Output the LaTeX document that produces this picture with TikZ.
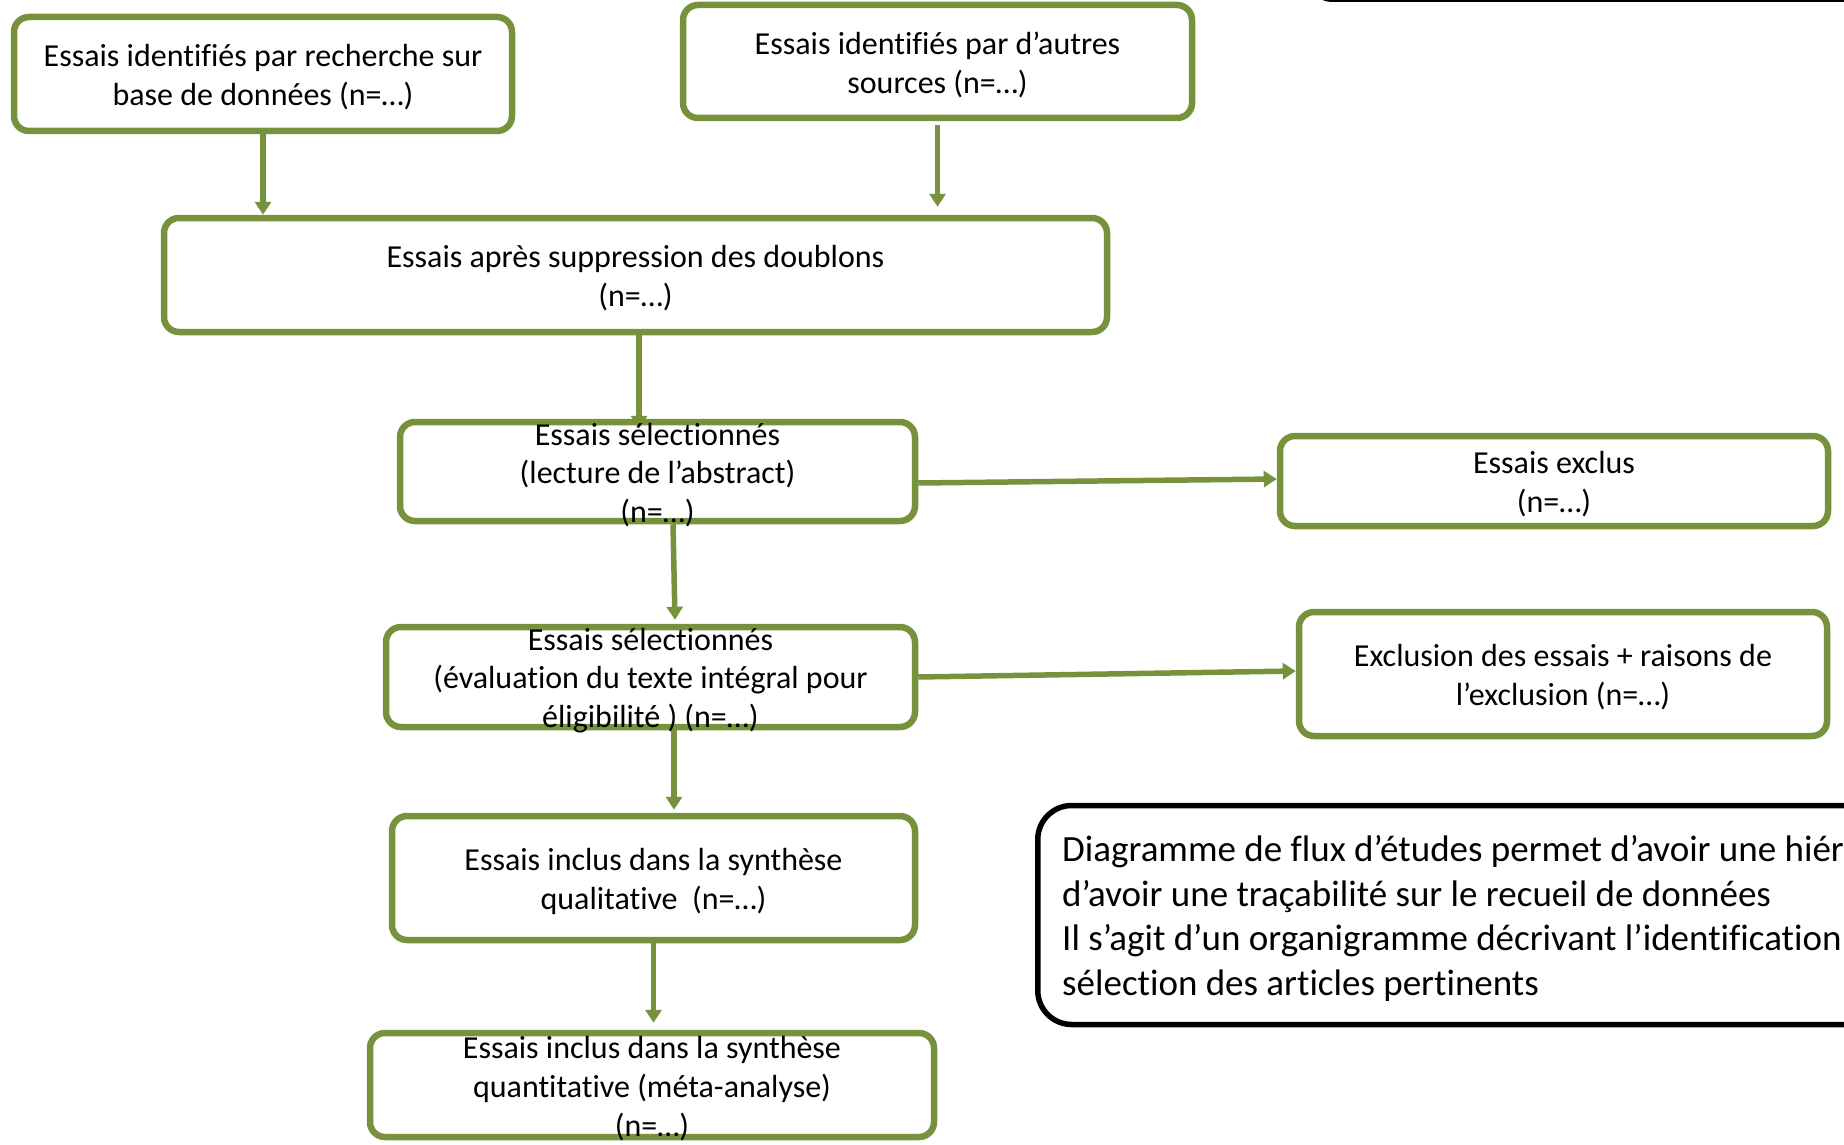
\documentclass[tikz,border=0pt]{standalone}
\usepackage{fontspec}
\setmainfont[Ligatures=NoCommon]{Carlito}
\usetikzlibrary{arrows.meta,calc}
\definecolor{olivegreen}{RGB}{118,146,60}
\tikzset{
  gbox/.style={draw=olivegreen, line width=6.5pt, rounded corners=15pt, inner sep=0pt, fill=white},
  btxt/.style={align=center, inner sep=0pt, yshift=-3.5pt, font=\fontsize{32}{38.8}\selectfont},
  arr/.style={draw=olivegreen, line width=5.5pt, -{Triangle[width=16pt,length=13pt]}},
}
\begin{document}
\begin{tikzpicture}[x=1pt,y=-1pt]
\useasboundingbox (0,0) rectangle (1844,1145);
\clip (0,0) rectangle (1844,1145);
\fill[white] (0,0) rectangle (1844,1145);

% top black box (mostly outside)
\node[draw=black, line width=6pt, rounded corners=28pt, minimum width=700pt, minimum height=100pt, anchor=south west] (topbox) at (1302,2) {};

% boxes
\node[gbox, minimum width=498pt, minimum height=114pt] (b1) at (263,74) {};
\node[gbox, minimum width=509pt, minimum height=113pt] (b2) at (937.5,61.5) {};
\node[gbox, minimum width=943pt, minimum height=114pt] (b3) at (635.5,275) {};
\node[gbox, minimum width=515pt, minimum height=99pt] (b4) at (657.5,471.5) {};
\node[gbox, minimum width=548pt, minimum height=90pt] (b5) at (1554,481) {};
\node[gbox, minimum width=529pt, minimum height=100pt] (b6) at (650.5,677) {};
\node[gbox, minimum width=528pt, minimum height=124pt] (b7) at (1563,674) {};
\node[gbox, minimum width=523pt, minimum height=124pt] (b8) at (653.5,878) {};
\node[gbox, minimum width=564pt, minimum height=104pt] (b9) at (652,1085) {};

% texts
\node[btxt] (t1) at (b1) {Essais identifiés par recherche sur\\base de données (n=…)};
\node[btxt] (t2) at (b2) {Essais identifiés par d’autres\\sources (n=…)};
\node[btxt] (t3) at (b3) {Essais après suppression des doublons\\(n=…)};
\node[btxt] (t5) at (b5) {Essais exclus\\(n=…)};
\node[btxt] (t7) at (b7) {Exclusion des essais + raisons de\\l’exclusion (n=…)};
\node[btxt] (t8) at (b8) {Essais inclus dans la synthèse\\qualitative~~(n=…)};

% connectors
\draw[arr] (b1.south) -- (b1.south |- b3.north);
\draw[arr] ([yshift=-4pt]b2.south) -- ([yshift=8pt]b2.south |- b3.north);
\draw[arr] ([xshift=3.5pt]b3.south) -- ([xshift=3.5pt,yshift=-10pt]b3.south |- b4.north);
\draw[arr] ([xshift=15.5pt]b4.south) -- ([xshift=24.5pt,yshift=4pt]b6.north);
\draw[arr] ([yshift=-11.5pt]b4.east) -- ([yshift=2pt]b5.west);
\draw[arr] (b6.east) -- ([yshift=3pt]b7.west);
\draw[arr] ([xshift=23.5pt]b6.south) -- ([xshift=23.5pt,yshift=3pt]b6.south |- b8.north);
\draw[arr] (b8.south) -- ([yshift=7pt]b8.south |- b9.north);

% texts that overflow their boxes (drawn above the arrows)
\node[btxt] (t4) at (b4) {Essais sélectionnés\\(lecture de l’abstract)\\(n=…)};
\node[btxt] (t6) at (b6) {Essais sélectionnés\\(évaluation du texte intégral pour\\éligibilité ) (n=…)};
\node[btxt] (t9) at (b9) {Essais inclus dans la synthèse\\quantitative (méta-analyse)\\(n=…)};

% black note box
\node[draw=black, line width=5.5pt, rounded corners=34pt, minimum width=900pt, minimum height=219pt, anchor=west] (note) at (1035,915) {};
\node[anchor=west, align=left, inner sep=0pt, font=\fontsize{37}{44.7}\selectfont] (notetxt) at (1062,918.5)
  {Diagramme de flux d’études permet d’avoir une hiérarchie\\d’avoir une traçabilité sur le recueil de données\\Il s’agit d’un organigramme décrivant l’identification\\sélection des articles pertinents};
\end{tikzpicture}
\end{document}
